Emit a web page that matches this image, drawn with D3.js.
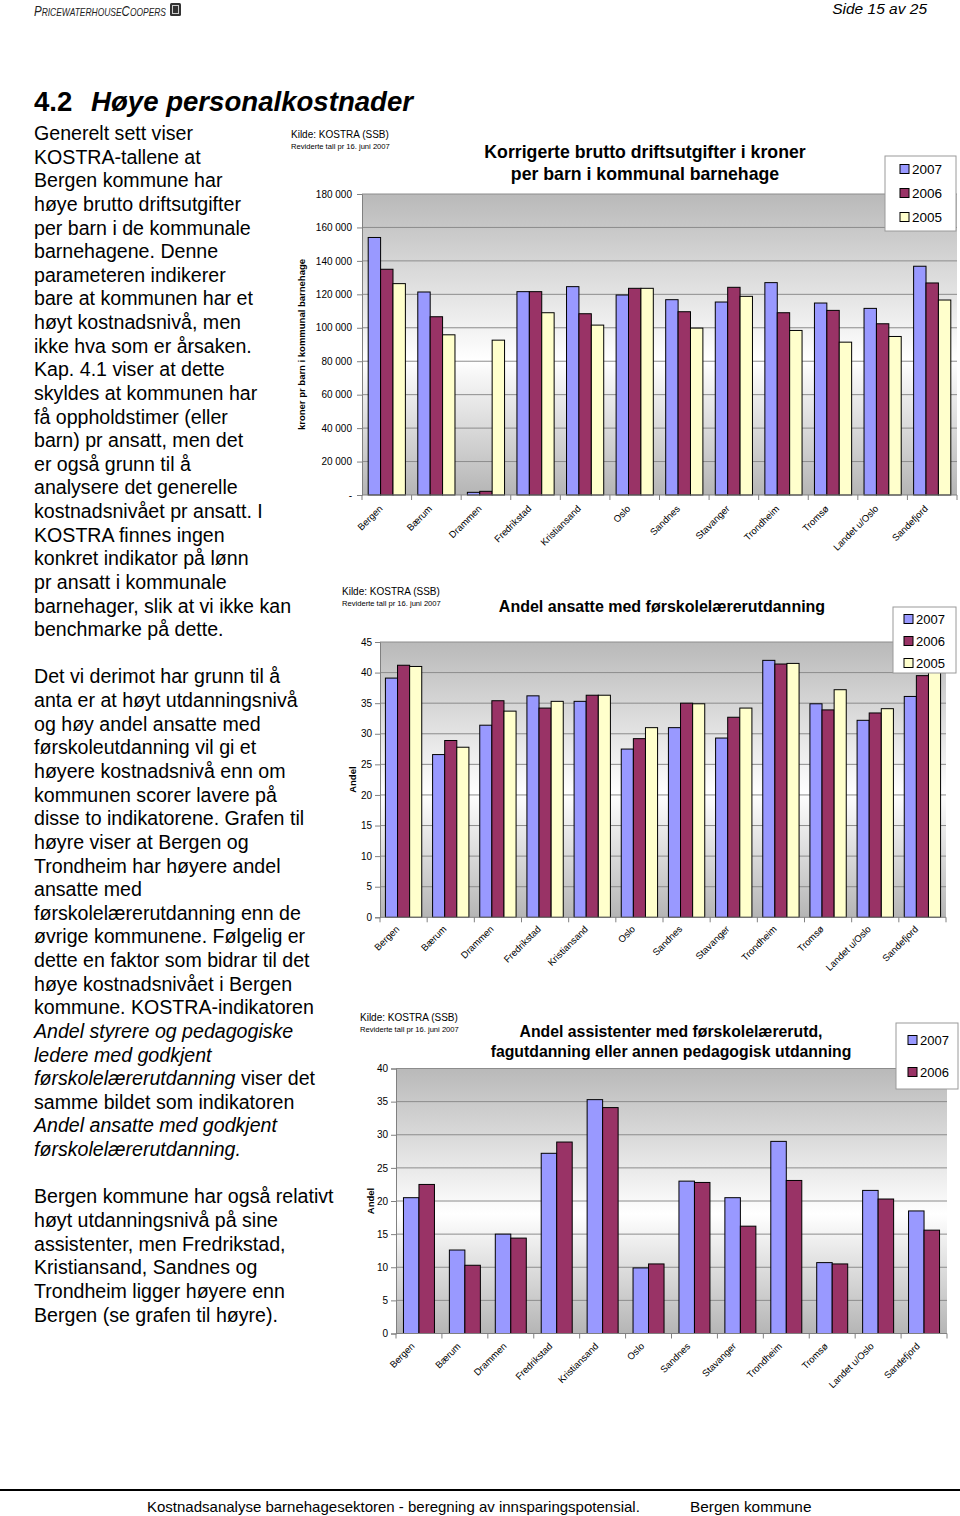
<!DOCTYPE html>
<html><head><meta charset="utf-8">
<script src="https://cdn.jsdelivr.net/npm/d3@7"></script>
<style>body{margin:0;background:#fff}svg{display:block}</style>
</head><body>
<script>
// ---------- DATA ----------
const municipalities = ["Bergen","Bærum","Drammen","Fredrikstad","Kristiansand","Oslo","Sandnes","Stavanger","Trondheim","Tromsø","Landet u/Oslo","Sandefjord"];
const years3 = ["2007","2006","2005"];
const years2 = ["2007","2006"];

const cost2007 = [154000,121400,1600,121600,124600,119600,116800,115400,127000,114800,111600,136800];
const cost2006 = [135000,106600,2200,121600,108400,123600,109600,124200,109000,110400,102400,126800];
const cost2005 = [126400,95800,92600,109000,101600,123600,99800,118800,98400,91400,94800,116600];
const costTicks = [0,20000,40000,60000,80000,100000,120000,140000,160000,180000];

const share2007 = [39.1,26.6,31.4,36.2,35.3,27.5,31.0,29.3,42.0,34.9,32.2,36.1];
const share2006 = [41.2,28.9,35.4,34.2,36.3,29.2,35.0,32.7,41.4,33.9,33.4,39.5];
const share2005 = [41.0,27.8,33.7,35.3,36.3,31.0,34.9,34.2,41.5,37.2,34.1,41.3];
const shareTicks = [0,5,10,15,20,25,30,35,40,45];

const assist2007 = [20.5,12.6,15.0,27.2,35.3,9.9,23.0,20.5,29.0,10.7,21.6,18.5];
const assist2006 = [22.5,10.3,14.4,28.9,34.1,10.5,22.8,16.2,23.1,10.5,20.3,15.6];
const assistTicks = [0,5,10,15,20,25,30,35,40];

const seriesColors = {"2007":"#9999ff","2006":"#993366","2005":"#ffffcc"};

const chart1Title = ["Korrigerte brutto driftsutgifter i kroner","per barn i kommunal barnehage"];
const chart2Title = ["Andel ansatte med førskolelærerutdanning"];
const chart3Title = ["Andel assistenter med førskolelærerutd,","fagutdanning eller annen pedagogisk utdanning"];
const sourceLines = ["Kilde: KOSTRA (SSB)","Reviderte tall pr 16. juni 2007"];

// body text: each line is a list of [text, italic]
const bodyLines = [
 [["Generelt sett viser",0]],
 [["KOSTRA-tallene at",0]],
 [["Bergen kommune har",0]],
 [["høye brutto driftsutgifter",0]],
 [["per barn i de kommunale",0]],
 [["barnehagene. Denne",0]],
 [["parameteren indikerer",0]],
 [["bare at kommunen har et",0]],
 [["høyt kostnadsnivå, men",0]],
 [["ikke hva som er årsaken.",0]],
 [["Kap. 4.1 viser at dette",0]],
 [["skyldes at kommunen har",0]],
 [["få oppholdstimer (eller",0]],
 [["barn) pr ansatt, men det",0]],
 [["er også grunn til å",0]],
 [["analysere det generelle",0]],
 [["kostnadsnivået pr ansatt. I",0]],
 [["KOSTRA finnes ingen",0]],
 [["konkret indikator på lønn",0]],
 [["pr ansatt i kommunale",0]],
 [["barnehager, slik at vi ikke kan",0]],
 [["benchmarke på dette.",0]],
 [],
 [["Det vi derimot har grunn til å",0]],
 [["anta er at høyt utdanningsnivå",0]],
 [["og høy andel ansatte med",0]],
 [["førskoleutdanning vil gi et",0]],
 [["høyere kostnadsnivå enn om",0]],
 [["kommunen scorer lavere på",0]],
 [["disse to indikatorene. Grafen til",0]],
 [["høyre viser at Bergen og",0]],
 [["Trondheim har høyere andel",0]],
 [["ansatte med",0]],
 [["førskolelærerutdanning enn de",0]],
 [["øvrige kommunene. Følgelig er",0]],
 [["dette en faktor som bidrar til det",0]],
 [["høye kostnadsnivået i Bergen",0]],
 [["kommune. KOSTRA-indikatoren",0]],
 [["Andel styrere og pedagogiske",1]],
 [["ledere med godkjent",1]],
 [["førskolelærerutdanning",1],[" viser det",0]],
 [["samme bildet som indikatoren",0]],
 [["Andel ansatte med godkjent",1]],
 [["førskolelærerutdanning.",1]],
 [],
 [["Bergen kommune har også relativt",0]],
 [["høyt utdanningsnivå på sine",0]],
 [["assistenter, men Fredrikstad,",0]],
 [["Kristiansand, Sandnes og",0]],
 [["Trondheim ligger høyere enn",0]],
 [["Bergen (se grafen til høyre).",0]]
];

// ---------- DRAW ----------
const FONT = "'Liberation Sans', Arial, Helvetica, sans-serif";
const svg = d3.select("body").append("svg").attr("width",960).attr("height",1516)
  .style("font-family",FONT);

const defs = svg.append("defs");
const grad = defs.append("linearGradient").attr("id","plotbg")
  .attr("x1",0).attr("y1",0).attr("x2",0).attr("y2",1);
[[0,"#b9b9b9"],[0.55,"#ffffff"],[1,"#b5b5b5"]].forEach(([o,c])=>
  grad.append("stop").attr("offset",o).attr("stop-color",c));

// header
svg.append("text").attr("x",34).attr("y",16)
  .attr("font-style","italic").attr("fill","#222").attr("font-size",15)
  .style("font-variant","small-caps")
  .attr("textLength",132).attr("lengthAdjust","spacingAndGlyphs")
  .text("PricewaterhouseCoopers");
svg.append("rect").attr("x",170).attr("y",3).attr("width",11).attr("height",13).attr("rx",1.5).attr("fill","#333");
svg.append("rect").attr("x",172.5).attr("y",5.5).attr("width",6).attr("height",8).attr("fill","none").attr("stroke","#ccc").attr("stroke-width",1);
svg.append("text").attr("x",927).attr("y",14).attr("text-anchor","end")
  .attr("font-style","italic").attr("font-size",15.5).text("Side 15 av 25");

// heading
svg.append("text").attr("x",34).attr("y",111).attr("font-size",27.6).attr("font-weight","bold").text("4.2");
svg.append("text").attr("x",91).attr("y",111).attr("font-size",27.6).attr("font-weight","bold")
  .attr("font-style","italic").text("Høye personalkostnader");

// body text
const lineH = 23.63;
bodyLines.forEach((segs,i)=>{
  if(!segs.length) return;
  const t = svg.append("text").attr("x",34).attr("y",140 + i*lineH).attr("font-size",19.6).attr("fill","#000");
  segs.forEach(([s,it])=> t.append("tspan").attr("font-style", it ? "italic" : "normal").text(s));
});

// footer
svg.append("line").attr("x1",0).attr("x2",960).attr("y1",1490).attr("y2",1490).attr("stroke","#000").attr("stroke-width",2);
svg.append("text").attr("x",147).attr("y",1512).attr("font-size",15)
  .text("Kostnadsanalyse barnehagesektoren - beregning av innsparingspotensial.");
svg.append("text").attr("x",690).attr("y",1512).attr("font-size",15.4).text("Bergen kommune");

function drawChart(o){
  const g = svg.append("g");
  // source
  g.append("text").attr("x",o.src[0]).attr("y",o.src[1]).attr("font-size",10).text(sourceLines[0]);
  g.append("text").attr("x",o.src[0]).attr("y",o.src[1]+11).attr("font-size",7.6).text(sourceLines[1]);
  // title
  o.title.forEach((t,i)=> g.append("text").attr("x",o.titleX).attr("y",o.titleY + i*o.titleDy)
    .attr("text-anchor","middle").attr("font-size",o.titleSize).attr("font-weight","bold").text(t));

  const x = d3.scaleBand().domain(municipalities).range([o.left,o.right]).padding(0);
  const step = x.step();
  const cw = step*o.cluster;
  const xs = d3.scaleBand().domain(o.series.map(s=>s.key)).range([(step-cw)/2,(step+cw)/2]).padding(0);
  const y = d3.scaleLinear().domain([0,o.max]).range([o.bottom,o.top]);

  // plot bg
  g.append("rect").attr("x",o.left).attr("y",y(o.max)).attr("width",o.right-o.left)
    .attr("height",o.bottom-y(o.max)).attr("fill","url(#plotbg)");
  // grid
  g.selectAll(".grid").data(o.ticks.filter(d=>d>0)).join("line")
    .attr("x1",o.left).attr("x2",o.right).attr("y1",d=>y(d)).attr("y2",d=>y(d))
    .attr("stroke","#8c8c8c").attr("stroke-width",1);

  // y axis
  const ya = g.append("g").attr("transform",`translate(${o.left},0)`)
    .call(d3.axisLeft(y).tickValues(o.ticks).tickFormat(o.fmt).tickSize(5).tickPadding(o.tickPad));
  ya.select(".domain").attr("stroke","#808080");
  ya.selectAll(".tick line").attr("stroke","#808080");
  ya.selectAll("text").attr("font-size",10).attr("fill","#000").style("font-family",FONT);

  // bars
  const grp = g.selectAll(".grp").data(municipalities).join("g")
    .attr("transform",d=>`translate(${x(d)},0)`);
  o.series.forEach(s=>{
    grp.append("rect")
      .attr("x",(d,i)=>xs(s.key)).attr("width",xs.bandwidth())
      .attr("y",(d,i)=>y(s.values[i])).attr("height",(d,i)=>o.bottom-y(s.values[i]))
      .attr("fill",seriesColors[s.key]).attr("stroke","#000").attr("stroke-width",1);
  });

  // x axis line + boundary ticks
  g.append("line").attr("x1",o.left).attr("x2",o.right).attr("y1",o.bottom).attr("y2",o.bottom)
    .attr("stroke","#808080");
  const bounds = municipalities.map(m=>x(m)).concat([o.right]);
  g.selectAll(".xt").data(bounds).join("line")
    .attr("x1",d=>d).attr("x2",d=>d).attr("y1",o.bottom).attr("y2",o.bottom+5).attr("stroke","#808080");
  // x labels
  g.selectAll(".xl").data(municipalities).join("text")
    .attr("transform",d=>`translate(${x(d)+step/2-6},${o.bottom+o.labDy}) rotate(-45)`)
    .attr("text-anchor","end").attr("dy","0.35em").attr("font-size",9.5).attr("fill","#000").text(d=>d);

  // y title
  g.append("text").attr("transform",`translate(${o.yLabX},${(o.top+o.bottom)/2}) rotate(-90)`)
    .attr("text-anchor","middle").attr("font-size",9.5).attr("font-weight","bold").text(o.yLabel);

  // legend
  const L = o.legend;
  g.append("rect").attr("x",L.x).attr("y",L.y).attr("width",L.w).attr("height",L.h)
    .attr("fill","#fff").attr("stroke","#9a9a9a").attr("stroke-width",1);
  o.series.forEach((s,i)=>{
    const cy = L.rows[i];
    g.append("rect").attr("x",L.sx).attr("y",cy-4.5).attr("width",9).attr("height",9)
      .attr("fill",seriesColors[s.key]).attr("stroke","#000").attr("stroke-width",1);
    g.append("text").attr("x",L.tx).attr("y",cy).attr("dy","0.36em").attr("font-size",L.fs).text(s.key);
  });
}

const spaceFmt = d => d===0 ? "-" : d3.format(",")(d).replace(/,/g," ");

drawChart({
  src:[291,138], title:chart1Title, titleX:645, titleY:158, titleDy:22, titleSize:17.7,
  left:362, right:957, top:194, bottom:495, max:180000, ticks:costTicks, fmt:spaceFmt, tickPad:5,
  cluster:0.75, series:[{key:"2007",values:cost2007},{key:"2006",values:cost2006},{key:"2005",values:cost2005}],
  labDy:12, yLabX:305, yLabel:"kroner pr barn i kommunal barnehage",
  legend:{x:885,y:156,w:71,h:75,rows:[169,193,217],sx:900,tx:912,fs:13.5}
});

drawChart({
  src:[342,595], title:chart2Title, titleX:662, titleY:612, titleDy:20, titleSize:16,
  left:380, right:946, top:642, bottom:917.3, max:45, ticks:shareTicks, fmt:d=>d, tickPad:3,
  cluster:0.77, series:[{key:"2007",values:share2007},{key:"2006",values:share2006},{key:"2005",values:share2005}],
  labDy:10, yLabX:356, yLabel:"Andel",
  legend:{x:893,y:607,w:63,h:66,rows:[619,641,663],sx:904,tx:916,fs:13}
});

drawChart({
  src:[360,1021], title:chart3Title, titleX:671, titleY:1037, titleDy:20, titleSize:15.8,
  left:396, right:947, top:1068.5, bottom:1333.5, max:40, ticks:assistTicks, fmt:d=>d, tickPad:3,
  cluster:0.675, series:[{key:"2007",values:assist2007},{key:"2006",values:assist2006}],
  labDy:11, yLabX:374, yLabel:"Andel",
  legend:{x:896,y:1023,w:62,h:66,rows:[1040,1072],sx:908,tx:920,fs:13}
});
</script>
</body></html>
